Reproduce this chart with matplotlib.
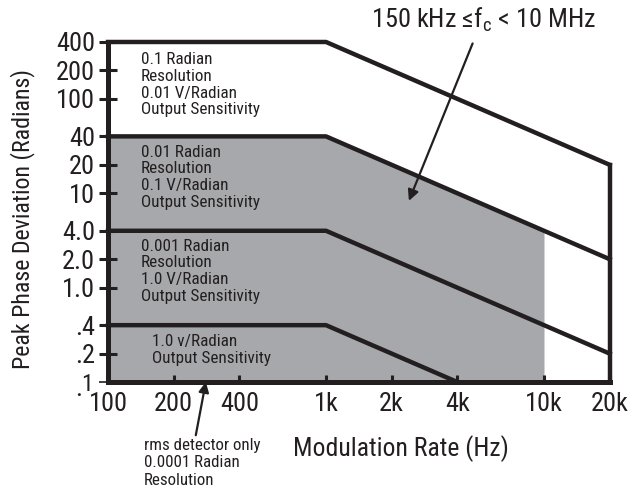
import matplotlib
matplotlib.use("Agg")
import matplotlib.pyplot as plt
from matplotlib.ticker import NullLocator

plt.rcParams['font.family'] = ['Roboto Condensed', 'DejaVu Sans']
plt.rcParams['mathtext.fontset'] = 'custom'
plt.rcParams['mathtext.rm'] = 'Roboto Condensed'

# breakpoints of the boundary lines (Hz, radians)
top_x = [100, 1000, 20000]
top_y = [400, 400, 20]
mid_x = [100, 1000, 20000]
mid_y = [40, 40, 2]
low_x = [100, 1000, 20000]
low_y = [4, 4, 0.2]
rms_x = [100, 1000, 4000]
rms_y = [0.4, 0.4, 0.1]
# gray band for 150 kHz <= fc < 10 MHz
shade_x = [100, 1000, 10000]
shade_y = [40, 40, 4]
right_x = [20000, 20000]
right_y = [0.1, 20]

xticks = [100, 200, 400, 1000, 2000, 4000, 10000, 20000]
xlabels = ['100', '200', '400', '1k', '2k', '4k', '10k', '20k']
yticks = [400, 200, 100, 40, 20, 10, 4, 2, 1, 0.4, 0.2, 0.1]
ylabels = ['400', '200', '100', '40', '20', '10', '4.0', '2.0', '1.0', '.4', '.2', '']

gray = '#a7a8ab'
ink = '#231f20'
lw = 3.2

fig = plt.figure(figsize=(6.32, 4.91), dpi=100)
ax = fig.add_axes([0.1709, 0.222, 0.7937, 0.6925])
ax.set_xscale('log')
ax.set_yscale('log')
ax.set_xlim(100, 20000)
ax.set_ylim(0.1, 400)

ax.fill_between(shade_x, 0.1, shade_y, color=gray, lw=0, zorder=1)
for xs, ys in [(top_x, top_y), (mid_x, mid_y), (low_x, low_y), (rms_x, rms_y), (right_x, right_y)]:
    ax.plot(xs, ys, color=ink, lw=lw, solid_capstyle='projecting', zorder=3, clip_on=False)

for s in ['top', 'right']:
    ax.spines[s].set_visible(False)
for s in ['left', 'bottom']:
    ax.spines[s].set_linewidth(3.6)
    ax.spines[s].set_color(ink)
    ax.spines[s].set_zorder(4)

ax.set_yticks(yticks)
ax.set_yticklabels(ylabels)
ax.yaxis.set_minor_locator(NullLocator())
ax.tick_params(axis='y', direction='inout', length=13, width=2.2, color=ink,
               labelsize=19, pad=3, labelcolor=ink)
ax.yaxis.get_major_ticks()[-1].tick1line.set_color('#e8606a')
ax.yaxis.get_major_ticks()[-1].tick1line.set_markeredgewidth(1.2)

ax.set_xticks(xticks)
ax.set_xticklabels(xlabels)
ax.xaxis.set_minor_locator(NullLocator())
ax.tick_params(axis='x', direction='in', length=5, width=2.2, color=ink,
               labelsize=19, pad=7, labelcolor=ink)
ax.xaxis.get_major_ticks()[0].tick1line.set_visible(False)
ax.xaxis.get_major_ticks()[-1].tick1line.set_visible(False)

# the odd ".1" label at the corner: low dot, raised one
ax.annotate('.', xy=(100, 0.1), xytext=(-21, -5), textcoords='offset points',
            fontsize=19, color=ink, ha='center', va='center')
ax.annotate('1', xy=(100, 0.1), xytext=(-15, -2), textcoords='offset points',
            fontsize=17, color=ink, ha='center', va='center')

ax.set_xlabel('Modulation Rate (Hz)', fontsize=18.5, color=ink)
ax.xaxis.label.set_va('center')
ax.xaxis.set_label_coords(0.584, -0.197)
ax.set_ylabel('Peak Phase Deviation (Radians)', fontsize=17.2, color=ink)
ax.yaxis.label.set_va('center')
ax.yaxis.set_label_coords(-0.171, 0.478)

txt = dict(fontsize=12.3, color=ink, ha='left', va='top', linespacing=1.13)
ax.text(141, 310, '0.1 Radian\nResolution\n0.01 V/Radian\nOutput Sensitivity', **txt)
ax.text(141, 32.5, '0.01 Radian\nResolution\n0.1 V/Radian\nOutput Sensitivity', **txt)
ax.text(141, 3.28, '0.001 Radian\nResolution\n1.0 V/Radian\nOutput Sensitivity', **txt)
ax.text(159, 0.32, '1.0 v/Radian\nOutput Sensitivity', **txt)

ax.annotate('150 kHz \u2264f$_\\mathrm{c}$ < 10 MHz', xy=(2400, 8.3), xytext=(484, 471),
            textcoords='figure pixels', fontsize=19, color=ink, ha='center', va='center',
            arrowprops=dict(arrowstyle='-|>', color=ink, lw=1.6, mutation_scale=16,
                            shrinkA=5, shrinkB=0, relpos=(0.466, 0.0)))

ax.annotate('rms detector only\n0.0001 Radian\nResolution', xy=(281, 0.1), xytext=(144, 53),
            textcoords='figure pixels', fontsize=12.2, color=ink, ha='left', va='top',
            linespacing=1.2,
            arrowprops=dict(arrowstyle='-|>', color=ink, lw=1.6, mutation_scale=15,
                            shrinkA=0, shrinkB=0, relpos=(0.44, 1.0)))

fig.savefig('out.png', dpi=100)
